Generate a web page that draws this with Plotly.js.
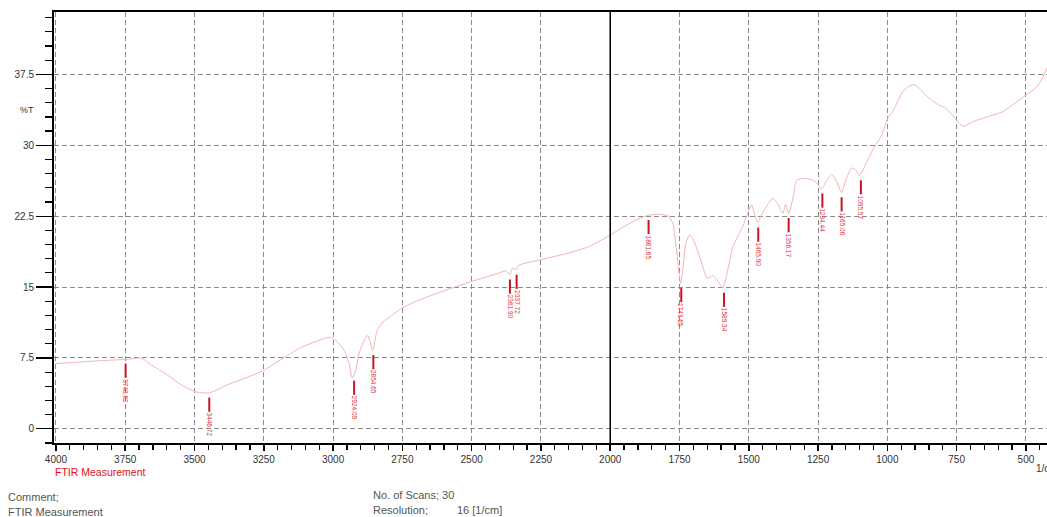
<!DOCTYPE html>
<html>
<head>
<meta charset="utf-8">
<script src="https://cdn.plot.ly/plotly-3.0.1.min.js"></script>
<style>html,body{margin:0;padding:0;background:#fff;overflow:hidden}#chart{width:1047px;height:517px}</style>
</head>
<body>
<div id="chart"></div>
<script>
// Spectrum (wavenumber 1/cm, %T)
const wavenumber = [4000,3900,3845,3780,3725,3700,3680,3664,3630,3603,3545,3494,3470,3447,3420,3386,3314,3256,3184,3122,3039,3010,2985,2960,2942,2931,2920,2906,2877,2866,2857,2841,2820,2797,2750,2700,2600,2500,2420,2375,2362,2353,2340,2330,2250,2150,2075,2000,1950,1900,1861,1822,1790,1775,1762,1752,1746,1738,1728,1714,1700,1677,1649,1630,1616,1594,1578,1558,1522,1504,1490,1478,1468,1455,1443,1414,1395,1378,1367,1356,1340,1327,1298,1270,1255,1237,1220,1201,1185,1165,1148,1128,1112,1100,1075,1053,1020,998,980,944,920,901,880,858,818,793,757,740,728,710,691,630,587,547,496,467,442,424];
const transmittance = [6.9,7.1,7.2,7.3,7.4,7.5,7.3,6.9,6.3,5.8,4.6,3.9,3.8,3.8,4.1,4.6,5.4,6.1,7.4,8.5,9.5,9.7,9.2,8.3,6.9,5.4,6.0,8.0,9.9,9.2,8.3,10.4,11.3,11.8,12.8,13.5,14.6,15.6,16.3,16.7,16.3,17.0,16.8,17.3,17.9,18.6,19.3,20.5,21.4,22.2,22.6,22.7,22.5,21.8,19.2,16.5,15.4,16.8,19.5,20.5,20.0,18.2,15.9,16.2,15.8,14.9,16.5,19.2,21.4,22.8,23.7,22.6,21.8,22.6,23.2,24.4,23.8,22.8,23.7,22.8,24.5,26.3,26.5,26.3,26.0,25.4,26.2,26.9,26.3,25.0,26.5,27.6,27.3,26.8,28.2,29.5,31.1,32.9,33.6,35.7,36.3,36.4,35.9,35.2,34.3,34.0,32.9,32.3,32.0,32.2,32.5,33.1,33.5,34.3,35.4,36.0,37.0,38.2];

// Peak picks
const peakWn = [3748.62,3446.72,2924.09,2854.65,2361.90,2337.72,1861.65,1743.65,1589.34,1465.90,1356.17,1234.44,1165.06,1095.57];
const peakLabels = ["3748.62","3446.72","2924.09","2854.65","2361.90","2337.72","1861.65","1743.65","1589.34","1465.90","1356.17","1234.44","1165.06","1095.57"];
const peakT = [7.4,3.8,5.6,8.3,16.3,16.8,22.6,15.4,14.9,21.8,22.8,25.4,25.0,26.8];

// Axis ticks
const xTickVals = [4000,3750,3500,3250,3000,2750,2500,2250,2000,1750,1500,1250,1000,750,500];
const yTickVals = [0,7.5,15,22.5,30,37.5];
const yTickText = ["0","7.5","15","22.5","30","37.5"];

const FONT = "Liberation Sans, Arial, sans-serif";

const segX = [], segY = [];
peakWn.forEach((w, i) => {
  segX.push(w, w, null);
  segY.push(peakT[i] - 0.5, peakT[i] - 2.0, null);
});

const traces = [
  {x: wavenumber, y: transmittance, type: "scatter", mode: "lines",
   line: {color: "#f2b4b4", width: 1, shape: "spline", smoothing: 0.6}, hoverinfo: "skip"},
  {x: segX, y: segY, type: "scatter", mode: "lines",
   line: {color: "#c8141e", width: 2}, hoverinfo: "skip"}
];

const annotations = peakWn.map((w, i) => ({
  x: w, y: peakT[i] - 2.0, xref: "x", yref: "y", text: peakLabels[i],
  showarrow: false, textangle: 90, xanchor: "center", yanchor: "top",
  font: {family: FONT, size: 6.5, color: "#e0303a"}, borderpad: 0
}));

annotations.push(
  {x: -0.0272, y: 0.7726, xref: "paper", yref: "paper", text: "%T", showarrow: false,
   xanchor: "center", yanchor: "middle", font: {family: FONT, size: 9, color: "#333"}},
  {x: 4006, y: -0.067, xref: "x", yref: "paper", text: "FTIR Measurement", showarrow: false,
   xanchor: "left", yanchor: "middle", font: {family: FONT, size: 10.5, color: "#e8101a"}, borderpad: 0},
  {x: 0.987, y: -0.06, xref: "paper", yref: "paper", text: "1/cm", showarrow: false,
   xanchor: "left", yanchor: "middle", font: {family: FONT, size: 10, color: "#333"}},
  {x: -0.048, y: -0.1253, xref: "paper", yref: "paper", text: "Comment;", showarrow: false,
   xanchor: "left", yanchor: "middle", font: {family: FONT, size: 11, color: "#555"}},
  {x: -0.048, y: -0.16, xref: "paper", yref: "paper", text: "FTIR Measurement", showarrow: false,
   xanchor: "left", yanchor: "middle", font: {family: FONT, size: 11, color: "#555"}},
  {x: 0.319, y: -0.1206, xref: "paper", yref: "paper", text: "No. of Scans; 30", showarrow: false,
   xanchor: "left", yanchor: "middle", font: {family: FONT, size: 11, color: "#555"}},
  {x: 0.319, y: -0.1555, xref: "paper", yref: "paper", text: "Resolution;", showarrow: false,
   xanchor: "left", yanchor: "middle", font: {family: FONT, size: 11, color: "#555"}},
  {x: 0.404, y: -0.1555, xref: "paper", yref: "paper", text: "16 [1/cm]", showarrow: false,
   xanchor: "left", yanchor: "middle", font: {family: FONT, size: 11, color: "#555"}}
);

const layout = {
  width: 1047, height: 517,
  margin: {l: 54, r: 0, t: 12, b: 74, pad: 0},
  paper_bgcolor: "#fff", plot_bgcolor: "#fff",
  showlegend: false,
  font: {family: FONT, size: 10, color: "#333"},
  xaxis: {
    range: [4007, 424], autorange: false,
    tickmode: "array", tickvals: xTickVals,
    ticks: "outside", ticklen: 6, tickwidth: 1.5, tickcolor: "#000",
    showline: true, linecolor: "#000", linewidth: 2, mirror: true,
    showgrid: true, gridcolor: "#8a8a8a", gridwidth: 1, griddash: "5px,3px",
    zeroline: false,
    tickfont: {family: FONT, size: 10, color: "#333"},
    minor: {dtick: 50, tick0: 0, ticks: "outside", ticklen: 5, tickwidth: 1.2, tickcolor: "#000", showgrid: false}
  },
  yaxis: {
    range: [-1.5, 44.1], autorange: false,
    tickmode: "array", tickvals: yTickVals, ticktext: yTickText,
    ticks: "outside", ticklen: 16, tickwidth: 1.2, tickcolor: "#000",
    showline: true, linecolor: "#000", linewidth: 2,
    showgrid: true, gridcolor: "#8a8a8a", gridwidth: 1, griddash: "5px,3px",
    zeroline: false,
    tickfont: {family: FONT, size: 10, color: "#333"},
    minor: {dtick: 1.5, tick0: 0, ticks: "outside", ticklen: 7, tickwidth: 1.2, tickcolor: "#000", showgrid: false}
  },
  shapes: [
    {type: "line", xref: "x", yref: "paper", x0: 2000, x1: 2000, y0: 0, y1: 1,
     line: {color: "#000", width: 1.5}}
  ],
  annotations: annotations
};

Plotly.newPlot("chart", traces, layout, {staticPlot: true, displayModeBar: false});
</script>
</body>
</html>
